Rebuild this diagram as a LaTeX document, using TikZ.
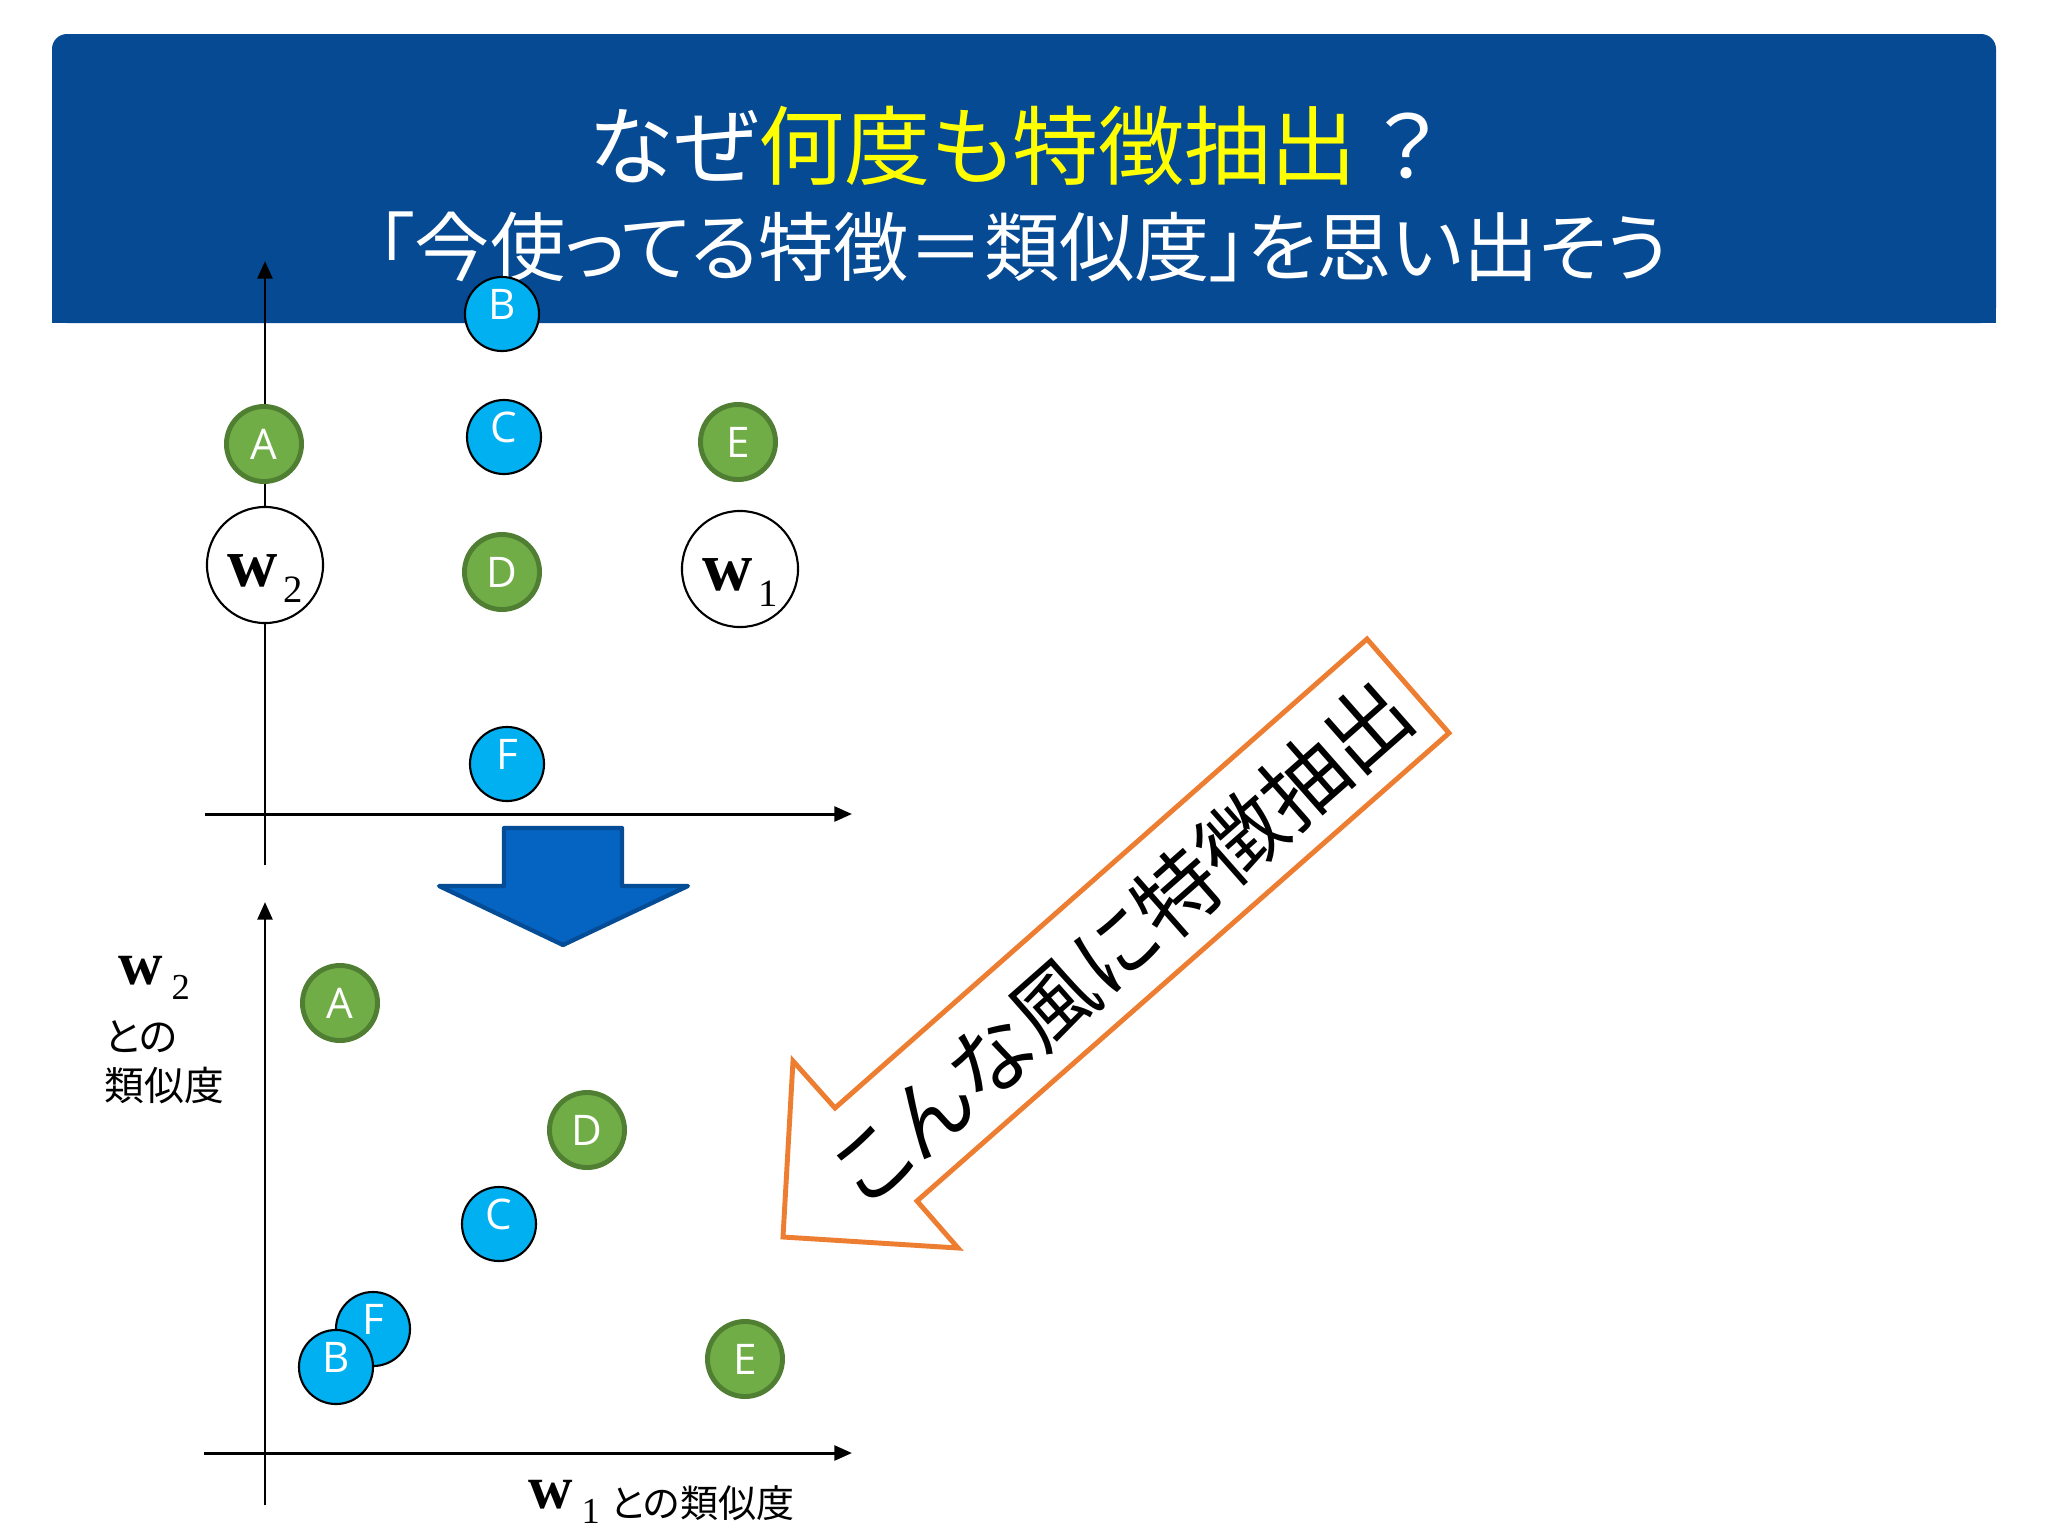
\documentclass[tikz,border=0pt]{standalone}
\usepackage{fontspec}
\newfontfamily\jp[RawFeature=+palt]{Noto Sans CJK JP}
\newfontfamily\lat{Open Sans}
\newfontfamily\ser{Liberation Serif}
\usetikzlibrary{arrows.meta}
\definecolor{hdr}{RGB}{6,74,148}
\definecolor{ttlyellow}{RGB}{255,255,0}
\definecolor{ptblue}{RGB}{0,176,240}
\definecolor{ptgreen}{RGB}{112,173,71}
\definecolor{ptgreend}{RGB}{80,126,50}
\definecolor{arrblue}{RGB}{5,99,193}
\definecolor{arrblued}{RGB}{4,76,150}
\definecolor{orng}{RGB}{237,125,49}
\tikzset{
  ptbase/.style={circle, inner sep=0pt, text=white, font=\lat\fontsize{12}{12}\selectfont, text depth=0pt},
  bluept/.style={ptbase, fill=ptblue, draw=black, line width=0.6pt, minimum size=0.74cm, text height=3pt},
  greenpt/.style={ptbase, fill=ptgreen, draw=ptgreend, line width=1.4pt, minimum size=0.75cm, text height=8.6pt},
  wnode/.style={circle, draw=black, fill=white, line width=0.6pt, minimum size=1.16cm, inner sep=0pt, text height=12pt, text depth=0pt},
  axisline/.style={line width=0.85pt, -{Triangle[length=5pt,width=4.2pt]}},
  lbl/.style={inner sep=0pt, font=\jp\fontsize{11.3}{12}\selectfont},
}
\newcommand{\wbig}[1]{{\ser\fontsize{19.8}{20}\selectfont\bfseries w}\hspace{1.7pt}\raisebox{-4.8pt}{\ser\fontsize{11}{11}\selectfont #1}}
\newcommand{\wax}[1]{{\ser\fontsize{17.5}{18}\selectfont\bfseries w}\hspace{2.4pt}\raisebox{-4.5pt}{\ser\fontsize{10.4}{11}\selectfont #1}}
\begin{document}
\begin{tikzpicture}[x=0.01cm,y=-0.01cm]
\useasboundingbox (0,0) rectangle (2048,1536);
\fill[white] (0,0) rectangle (2048,1536);
% header
\fill[hdr, rounded corners=0.15cm] (52,34) rectangle (1996,323);
\fill[hdr] (52,120) rectangle (1996,323);
\node[text=white, font=\jp\fontsize{24.5}{26}\selectfont, inner sep=0pt] (title1) at (1013,146) {なぜ\textcolor{ttlyellow}{何度も特徴抽出} ？};
\node[text=white, font=\jp\fontsize{21.4}{23}\selectfont, inner sep=0pt] (title2) at (1023,247) {「今使ってる特徴＝類似度」を思い出そう};
% top chart axes
\coordinate (tvb) at (265,865);
\coordinate (tvt) at (265,261);
\coordinate (thl) at (205,814);
\coordinate (thr) at (852,814);
\draw[axisline] (tvb) -- (tvt);
\draw[axisline] (thl) -- (thr);
% top chart points
\node[bluept] (tB) at (502,314) {B};
\node[bluept] (tC) at (504,437) {C};
\node[greenpt] (tA) at (264,444) {A};
\node[greenpt] (tE) at (738,442) {E};
\node[wnode] (tw2) at (265,565) {\wbig{2}};
\node[greenpt] (tD) at (502,572) {D};
\node[wnode] (tw1) at (740,569) {\wbig{1}};
\node[bluept] (tF) at (507,764) {F};
% blue block arrow
\filldraw[fill=arrblue, draw=arrblued, line width=1.2pt, line join=round]
  (504,828) -- (622,828) -- (622,886) -- (688,886) -- (563,945) -- (439,886) -- (504,886) -- cycle;
% bottom chart axes
\coordinate (bvb) at (265,1505);
\coordinate (bvt) at (265,902);
\coordinate (bhl) at (204,1453);
\coordinate (bhr) at (852,1453);
\draw[axisline] (bvb) -- (bvt);
\draw[axisline] (bhl) -- (bhr);
% bottom chart points
\node[greenpt] (bA) at (340,1003) {A};
\node[greenpt] (bD) at (587,1130) {D};
\node[bluept] (bC) at (499,1224) {C};
\node[bluept] (bF) at (373,1329) {F};
\node[bluept] (bB) at (336,1367) {B};
\node[greenpt] (bE) at (745,1359) {E};
% axis labels
\node[inner sep=0pt, anchor=base west] (ylw) at (118,984) {\wax{2}};
\node[lbl, anchor=west] (ylt1) at (104,1037) {との};
\node[lbl, anchor=west] (ylt2) at (104,1086) {類似度};
\node[inner sep=0pt, anchor=base west] (xlbl) at (528,1508) {\wax{1}\hspace{3pt}\raisebox{-2.6pt}{\jp\fontsize{10.8}{12}\selectfont との類似度}};
% orange arrow
\filldraw[fill=white, draw=orng, line width=1.4pt, line join=miter]
  (1367,639) -- (1449,733) -- (917,1201) -- (958,1248) -- (783,1237) -- (793,1061) -- (835,1108) -- cycle;
\node[rotate=41.4, inner sep=0pt, font=\jp\fontsize{24}{25}\selectfont] (atext) at (1122,942) {こんな風に特徴抽出};
\end{tikzpicture}
\end{document}
